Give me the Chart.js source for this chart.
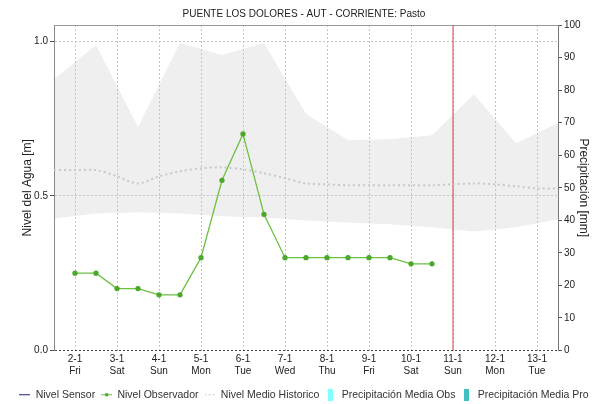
<!DOCTYPE html>
<html>
<head>
<meta charset="utf-8">
<style>
  html, body { margin: 0; padding: 0; background: #fff; }
  #wrap { width: 608px; height: 404px; }
</style>
</head>
<body>
<div id="wrap"><canvas id="nivelChart" width="608" height="404"></canvas></div>
<script src="https://cdn.jsdelivr.net/npm/chart.js"></script>
<script>
  // x values are days of January (2 = 2-1 00:00, 2.5 = 2-1 12:00)
  const dayTicks = [2, 3, 4, 5, 6, 7, 8, 9, 10, 11, 12, 13];
  const dayNames = ['Fri', 'Sat', 'Sun', 'Mon', 'Tue', 'Wed', 'Thu', 'Fri', 'Sat', 'Sun', 'Mon', 'Tue'];
  const nivelTicks = [0, 0.5, 1.0];

  const obsX = [2, 2.5, 3, 3.5, 4, 4.5, 5, 5.5, 6, 6.5, 7, 7.5, 8, 8.5, 9, 9.5, 10, 10.5];
  const obsNivel = [0.25, 0.25, 0.20, 0.20, 0.18, 0.18, 0.30, 0.55, 0.70, 0.44, 0.30, 0.30, 0.30, 0.30, 0.30, 0.30, 0.28, 0.28];

  const histX = [1.5, 2, 2.5, 3, 3.5, 4, 4.5, 5, 5.5, 6, 6.5, 7, 7.5, 8, 8.5, 9, 9.5, 10, 10.5, 11, 11.5, 12, 12.5, 13, 13.5];
  const histMedio = [0.583, 0.583, 0.583, 0.563, 0.540, 0.563, 0.579, 0.589, 0.592, 0.586, 0.573, 0.557, 0.540, 0.537, 0.534, 0.534, 0.534, 0.534, 0.534, 0.537, 0.540, 0.537, 0.531, 0.524, 0.524];

  const bandX = [1.5, 2.5, 3.5, 4.5, 5.5, 6.5, 7.5, 8.5, 9.5, 10.5, 11.5, 12.5, 13.5];
  const bandMax = [0.877, 0.987, 0.722, 0.994, 0.955, 0.994, 0.764, 0.680, 0.683, 0.696, 0.828, 0.670, 0.735];
  const bandMin = [0.427, 0.443, 0.447, 0.443, 0.434, 0.430, 0.420, 0.414, 0.408, 0.398, 0.385, 0.398, 0.424];

  const hoyX = 11;

  const pts = (xs, ys) => xs.map((x, i) => ({ x: x, y: ys[i] }));
  const FONT = 'Liberation Sans, Arial, sans-serif';

  // small canvases used as legend icons
  function icon(w, h, drawFn) {
    const c = document.createElement('canvas');
    c.width = w; c.height = h;
    drawFn(c.getContext('2d'));
    return c;
  }
  const icons = [
    icon(11, 3, g => { g.fillStyle = '#1a237e'; g.fillRect(0, 1, 11, 1); }),
    icon(11, 5, g => { g.fillStyle = '#6cc040'; g.fillRect(0, 2, 11, 1); g.fillStyle = '#4aa82a'; g.fillRect(4, 1, 3, 3); }),
    icon(11, 3, g => { g.fillStyle = '#c8c8c8'; [0, 4, 8].forEach(x => g.fillRect(x, 1, 2, 1)); }),
    icon(5, 12, g => { g.fillStyle = '#80ffff'; g.fillRect(0, 0, 5, 12); }),
    icon(5, 12, g => { g.fillStyle = '#40c0c0'; g.fillRect(0, 0, 5, 12); })
  ];

  const topLine = {
    id: 'topLine',
    afterDraw(chart) {
      const a = chart.chartArea, ctx = chart.ctx;
      ctx.save();
      ctx.strokeStyle = '#999';
      ctx.lineWidth = 1;
      ctx.beginPath();
      ctx.moveTo(a.left, Math.round(a.top) + 0.5);
      ctx.lineTo(a.right, Math.round(a.top) + 0.5);
      ctx.stroke();
      ctx.restore();
    }
  };

  new Chart(document.getElementById('nivelChart').getContext('2d'), {
    data: {
      datasets: [
        { type: 'line', label: 'Nivel Sensor', data: [], borderColor: '#1a237e', yAxisID: 'y' },
        { type: 'line', label: 'Nivel Observador', data: pts(obsX, obsNivel), borderColor: '#6cc040',
          backgroundColor: '#4aa82a', pointBackgroundColor: '#4aa82a', pointBorderColor: '#4aa82a',
          borderWidth: 1.3, pointRadius: 2, tension: 0, yAxisID: 'y' },
        { type: 'line', label: 'Nivel Medio Historico', data: pts(histX, histMedio), borderColor: '#c8c8c8',
          borderWidth: 2, borderDash: [2, 3], pointRadius: 0, tension: 0.3, yAxisID: 'y' },
        { type: 'bar', label: 'Precipitación Media Obs', data: [], backgroundColor: '#80ffff', yAxisID: 'y2' },
        { type: 'bar', label: 'Precipitación Media Pro', data: [], backgroundColor: '#40c0c0', yAxisID: 'y2' },
        { type: 'line', label: 'hoy', data: [{ x: hoyX, y: 0 }, { x: hoyX, y: 1.052 }], borderColor: '#d9404a',
          borderWidth: 1, pointRadius: 0, yAxisID: 'y' },
        { type: 'line', label: 'max', data: pts(bandX, bandMax), borderWidth: 0, borderColor: 'rgba(0,0,0,0)',
          backgroundColor: '#efefef', pointRadius: 0, fill: '+1', yAxisID: 'y' },
        { type: 'line', label: 'min', data: pts(bandX, bandMin), borderWidth: 0, borderColor: 'rgba(0,0,0,0)',
          pointRadius: 0, fill: false, yAxisID: 'y' }
      ]
    },
    options: {
      responsive: false,
      animation: false,
      layout: { padding: { left: 0, right: 0, top: 0, bottom: -6 } },
      plugins: {
        filler: { drawTime: 'beforeDraw' },
        tooltip: { enabled: false },
        title: {
          display: true,
          text: 'PUENTE LOS DOLORES - AUT - CORRIENTE: Pasto',
          color: '#222',
          font: { family: FONT, size: 10, weight: 'normal', lineHeight: 1.2 },
          padding: { top: 8, bottom: 5 }
        },
        legend: {
          position: 'bottom',
          labels: {
            color: '#333',
            font: { family: FONT, size: 10.5 },
            usePointStyle: true,
            pointStyleWidth: 11,
            boxHeight: 11,
            padding: 6,
            filter: item => item.datasetIndex < 5,
            generateLabels(chart) {
              const items = Chart.defaults.plugins.legend.labels.generateLabels(chart);
              items.forEach(it => { if (it.datasetIndex < 5) it.pointStyle = icons[it.datasetIndex]; });
              return items;
            }
          }
        }
      },
      scales: {
        x: {
          type: 'linear',
          offset: false,
          min: 1.5,
          max: 13.5,
          afterBuildTicks: s => { s.ticks = dayTicks.map(v => ({ value: v })); },
          afterFit: s => { s.height = 33; },
          ticks: {
            autoSkip: false,
            maxRotation: 0,
            padding: 3,
            color: '#222',
            font: { family: FONT, size: 10 },
            callback: v => [v + '-1', dayNames[dayTicks.indexOf(v)]]
          },
          grid: { color: '#c4c4c4', offset: false, drawTicks: false, lineWidth: 1 },
          border: { display: false, dash: [2, 2] }
        },
        y: {
          position: 'left',
          min: 0,
          max: 1.052,
          afterBuildTicks: s => { s.ticks = nivelTicks.map(v => ({ value: v })); },
          afterFit: s => { s.width = 54; },
          ticks: {
            color: '#222',
            padding: 2,
            font: { family: FONT, size: 10 },
            callback: v => v.toFixed(1)
          },
          grid: {
            color: c => (c.tick && c.tick.value === 0 ? '#444' : '#c4c4c4'),
            tickLength: 4, tickColor: '#555', tickBorderDash: []
          },
          border: { display: true, color: '#888', dash: [2, 2] },
          title: {
            display: true,
            text: 'Nivel del Agua [m]',
            color: '#222',
            font: { family: FONT, size: 12 },
            padding: { top: 20, bottom: 0 }
          }
        },
        y2: {
          position: 'right',
          min: 0,
          max: 100,
          afterFit: s => { s.width = 50; },
          ticks: {
            stepSize: 10,
            color: '#222',
            padding: 2,
            font: { family: FONT, size: 10 }
          },
          grid: { drawOnChartArea: false, tickLength: 4, tickColor: '#555' },
          border: { display: true, color: '#777' },
          title: {
            display: true,
            text: 'Precipitación [mm]',
            color: '#222',
            font: { family: FONT, size: 12 },
            padding: { top: 17, bottom: 0 }
          }
        }
      }
    },
    plugins: [topLine]
  });
</script>
</body>
</html>
